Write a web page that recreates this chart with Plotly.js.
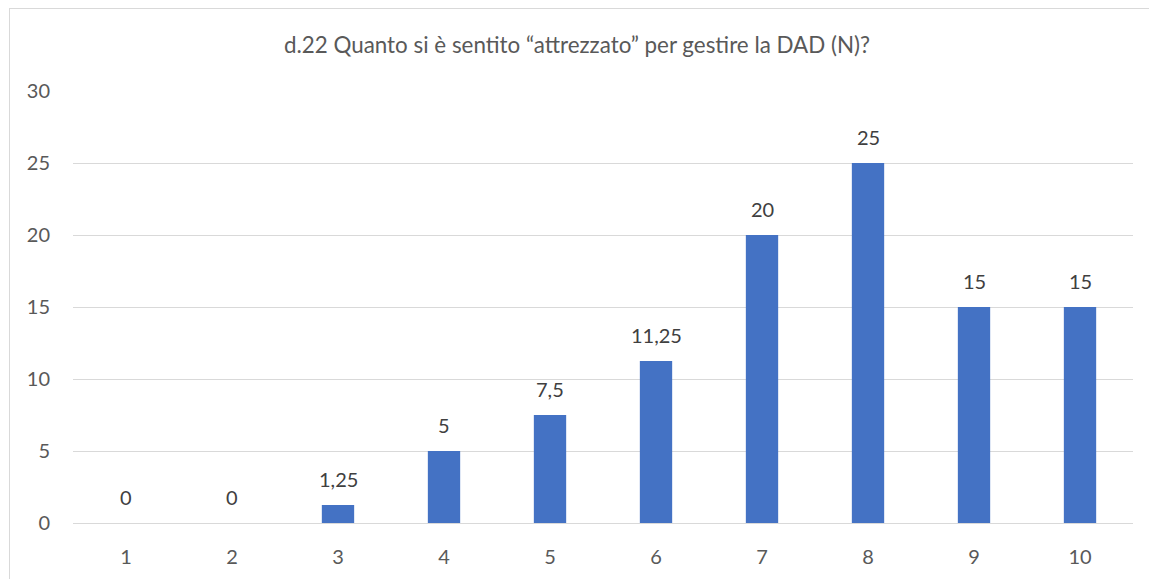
<!DOCTYPE html>
<html>
<head>
<meta charset="utf-8">
<script src="https://cdn.plot.ly/plotly-3.0.1.min.js"></script>
<style>
html,body{margin:0;padding:0;background:#fff;}
#wrap{position:relative;width:1149px;height:579px;overflow:hidden;}
#frame{position:absolute;left:9px;top:8px;width:1160px;height:600px;border:1px solid #d9d9d9;box-sizing:border-box;pointer-events:none;}
#chart{position:absolute;left:0;top:0;width:1149px;height:579px;}
</style>
</head>
<body>
<div id="wrap">
<div id="chart"></div>
<div id="frame"></div>
</div>
<script>
var categories = ["1","2","3","4","5","6","7","8","9","10"];
var values = [0, 0, 1.25, 5, 7.5, 11.25, 20, 25, 15, 15];
var yTicks = [0, 5, 10, 15, 20, 25, 30];
var titleText = "d.22 Quanto si è sentito “attrezzato” per gestire la DAD (N)?";

var labels = values.map(function(v){ return String(v).replace('.', ','); });

var FONT = "Lato, 'Open Sans', sans-serif";

// category axis positions are the category indices
var annotations = categories.map(function(c, i){
  return {
    x: i, y: values[i], xref: 'x', yref: 'y',
    text: labels[i], showarrow: false,
    yanchor: 'middle', xanchor: 'center', yshift: 26,
    font: {family: FONT, size: 20, color: '#404040'}
  };
});

var trace = {
  type: 'bar',
  x: categories,
  y: values,
  marker: {color: '#4472C4'},
  hoverinfo: 'none'
};

var layout = {
  width: 1149, height: 579,
  margin: {l: 73, r: 16, t: 91, b: 56, pad: 0},
  paper_bgcolor: '#ffffff', plot_bgcolor: '#ffffff',
  bargap: 0.695,
  showlegend: false,
  title: {
    text: titleText,
    x: 577/1149, xref: 'container', xanchor: 'center',
    y: 1 - 45/579, yref: 'container', yanchor: 'middle',
    font: {family: FONT, size: 22.4, color: '#595959'}
  },
  xaxis: {
    type: 'category',
    categoryorder: 'array', categoryarray: categories,
    range: [-0.5, categories.length - 0.5],
    showgrid: false, showline: false, zeroline: false,
    ticks: '', ticklabelstandoff: 20,
    tickfont: {family: FONT, size: 20, color: '#595959'}
  },
  yaxis: {
    range: [0, 30],
    tickvals: yTicks,
    showgrid: true, gridcolor: '#d9d9d9', gridwidth: 1,
    zeroline: true, zerolinecolor: '#d9d9d9', zerolinewidth: 1,
    showline: false, ticks: '', ticklabelstandoff: 22,
    tickfont: {family: FONT, size: 20, color: '#595959'}
  },
  annotations: annotations
};

Plotly.newPlot('chart', [trace], layout, {displayModeBar: false, staticPlot: true});
</script>
</body>
</html>
